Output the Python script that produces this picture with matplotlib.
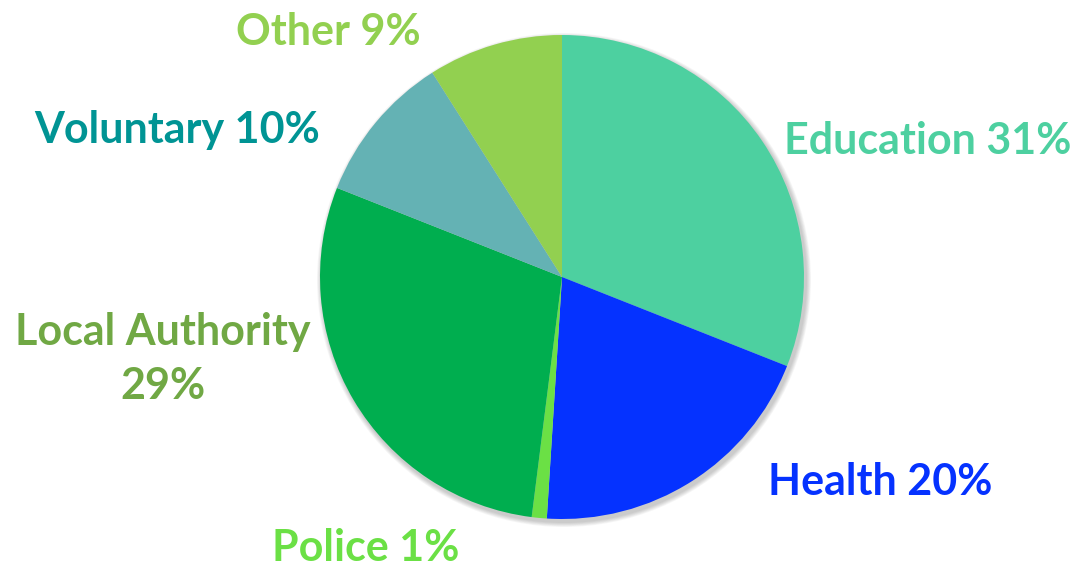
import matplotlib.pyplot as plt
from matplotlib.patches import Circle

# workforce share by sector
sectors = ["Education", "Health", "Police", "Local Authority", "Voluntary", "Other"]
shares = [31, 20, 1, 29, 10, 9]
slice_colors = ["#4DD0A0", "#0532FF", "#6BE045", "#00AE4F", "#64B2B4", "#92D050"]
label_colors = ["#4DD0A0", "#0532FF", "#6BE045", "#70A844", "#009494", "#92D050"]
label_text = ["Education 31%", "Health 20%", "Police 1%", "Local Authority\n29%",
              "Voluntary 10%", "Other 9%"]

W, H = 1078, 570
fig = plt.figure(figsize=(W / 100, H / 100), dpi=100)
ax = fig.add_axes([0, 0, 1, 1])
ax.set_xlim(0, W)
ax.set_ylim(0, H)
ax.set_aspect("equal")
ax.axis("off")

cx, cy, r = 562, H - 277, 242

# soft shadow under the pie
for i in range(6):
    ax.add_patch(Circle((cx + 2, cy - 3), r + 1 + i * 0.8, color="black",
                        alpha=0.035, lw=0, zorder=0))

ax.pie(shares, colors=slice_colors, startangle=90, counterclock=False,
       center=(cx, cy), radius=r, frame=True,
       wedgeprops=dict(linewidth=0))
ax.set_xlim(0, W)
ax.set_ylim(0, H)
ax.axis("off")

# label positions in pixel coords (x, y from top)
label_pos = [(928, 141), (880, 482), (366, 548), (163, 359), (177, 130), (328, 32)]
for txt, col, (x, y) in zip(label_text, label_colors, label_pos):
    ax.text(x, H - y, txt, color=col, fontsize=31, fontweight="bold",
            family="Lato", ha="center", va="center", linespacing=1.45)

fig.savefig("out.png", dpi=100)
